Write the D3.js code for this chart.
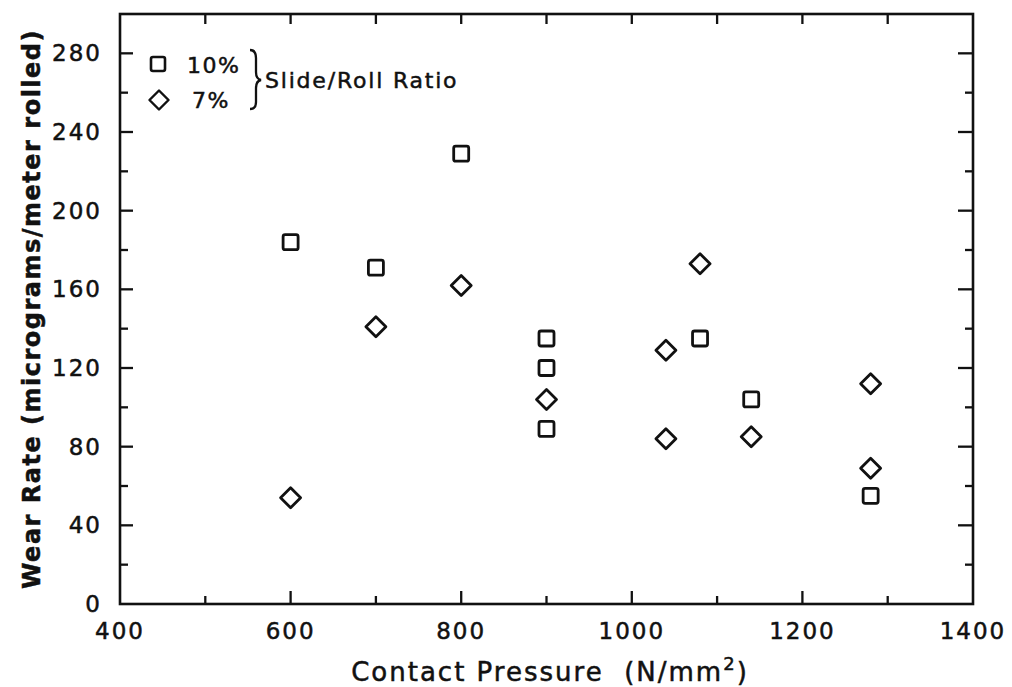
<!DOCTYPE html>
<html>
<head>
<meta charset="utf-8">
<script src="https://cdn.jsdelivr.net/npm/d3@7"></script>
<style>
  body { margin: 0; background: #fff; }
  text { font-family: "DejaVu Sans", sans-serif; fill: #111; stroke: #111; stroke-width: 0.5px; white-space: pre; }
</style>
</head>
<body>
<div id="chart"></div>
<script>
// Data
const sqPressure = [600, 700, 800, 900, 900, 900, 1080, 1140, 1280];
const sqWear     = [184, 171, 229, 135, 120, 89, 135, 104, 55];
const dmPressure = [600, 700, 800, 900, 1040, 1040, 1080, 1140, 1280, 1280];
const dmWear     = [54, 141, 162, 104, 129, 84, 173, 85, 112, 69];
const xTicks = [400, 600, 800, 1000, 1200, 1400];
const yTicks = [0, 40, 80, 120, 160, 200, 240, 280];
const legendLabels = ["10%", "7%"];

const width = 1012, height = 687;
const margin = { top: 14, right: 39, bottom: 83, left: 120 };
const ink = "#111";

const svg = d3.select("#chart").append("svg")
  .attr("width", width)
  .attr("height", height);

const x = d3.scaleLinear().domain([400, 1400]).range([margin.left, width - margin.right]);
const y = d3.scaleLinear().domain([0, 300]).range([height - margin.bottom, margin.top]);

// frame
svg.append("rect")
  .attr("x", x(400)).attr("y", y(300))
  .attr("width", x(1400) - x(400)).attr("height", y(0) - y(300))
  .attr("fill", "none").attr("stroke", ink).attr("stroke-width", 2.6);

// inward ticks on all four sides
const minorX = d3.range(500, 1400, 100);
const minorY = d3.range(20, 300, 20);
const tickG = svg.append("g").attr("stroke", ink).attr("stroke-width", 2.3);
tickG.selectAll(".bt").data(minorX).enter().append("line")
  .attr("x1", d => x(d)).attr("x2", d => x(d))
  .attr("y1", y(0)).attr("y2", d => y(0) - (d % 200 === 0 ? 13 : 8));
tickG.selectAll(".tt").data(minorX).enter().append("line")
  .attr("x1", d => x(d)).attr("x2", d => x(d))
  .attr("y1", y(300)).attr("y2", y(300) + 10);
tickG.selectAll(".lt").data(minorY).enter().append("line")
  .attr("y1", d => y(d)).attr("y2", d => y(d))
  .attr("x1", x(400)).attr("x2", d => x(400) + (d % 40 === 0 ? 13 : 8));
tickG.selectAll(".rt").data(minorY).enter().append("line")
  .attr("y1", d => y(d)).attr("y2", d => y(d))
  .attr("x1", x(1400)).attr("x2", d => x(1400) - (d % 40 === 0 ? 15 : 8));

// tick labels
svg.selectAll(".xl").data(xTicks).enter().append("text")
  .attr("x", d => x(d)).attr("y", y(0) + 35)
  .attr("text-anchor", "middle")
  .style("font-size", "23px").style("letter-spacing", "2px")
  .text(d => d);
svg.selectAll(".yl").data(yTicks).enter().append("text")
  .attr("x", x(400) - 18).attr("y", d => y(d) + 8)
  .attr("text-anchor", "end")
  .style("font-size", "23px").style("letter-spacing", "2px")
  .text(d => d);

// axis titles
const xt = svg.append("text")
  .attr("x", 550).attr("y", 681)
  .attr("text-anchor", "middle")
  .style("font-size", "26px").style("letter-spacing", "2px");
xt.append("tspan").text("Contact Pressure  (N/mm");
xt.append("tspan").attr("dy", -11).style("font-size", "18px").text("2");
xt.append("tspan").attr("dy", 11).text(")");

svg.append("text")
  .attr("transform", `translate(40, 309) rotate(-90)`)
  .attr("text-anchor", "middle")
  .style("font-size", "24px").style("font-weight", "bold").style("letter-spacing", "1.5px")
  .text("Wear Rate (micrograms/meter rolled)");

// markers
const marks = svg.append("g").attr("fill", "none").attr("stroke", ink).attr("stroke-width", 2.8);
marks.selectAll(".sq").data(sqPressure).enter().append("rect")
  .attr("x", d => x(d) - 7.5)
  .attr("y", (d, i) => y(sqWear[i]) - 7.5)
  .attr("width", 15).attr("height", 15).attr("rx", 2);
const diamond = "M0,-10L10,0L0,10L-10,0Z";
marks.selectAll(".dm").data(dmPressure).enter().append("path")
  .attr("d", diamond)
  .attr("stroke-linejoin", "round")
  .attr("transform", (d, i) => `translate(${x(d)},${y(dmWear[i])})`);

// legend
const leg = svg.append("g");
leg.append("rect").attr("x", 151).attr("y", 57).attr("width", 14).attr("height", 14).attr("rx", 2)
  .attr("fill", "none").attr("stroke", ink).attr("stroke-width", 2.6);
leg.append("path").attr("d", diamond).attr("transform", "translate(159,100) scale(0.95)")
  .attr("fill", "none").attr("stroke", ink).attr("stroke-width", 2.6).attr("stroke-linejoin", "round");
leg.selectAll(".ll").data(legendLabels).enter().append("text")
  .attr("x", (d, i) => i === 0 ? 187 : 192)
  .attr("y", (d, i) => i === 0 ? 73 : 108)
  .style("font-size", "22px").style("letter-spacing", "1.5px")
  .text(d => d);
leg.append("path")
  .attr("d", "M250,50 Q256,50 256,58 L256,72 Q256,79 261,80 Q256,81 256,88 L256,102 Q256,109 250,109")
  .attr("fill", "none").attr("stroke", ink).attr("stroke-width", 2.3);
leg.append("text").attr("x", 265).attr("y", 88)
  .style("font-size", "22px").style("letter-spacing", "1.8px")
  .text("Slide/Roll Ratio");
</script>
</body>
</html>
